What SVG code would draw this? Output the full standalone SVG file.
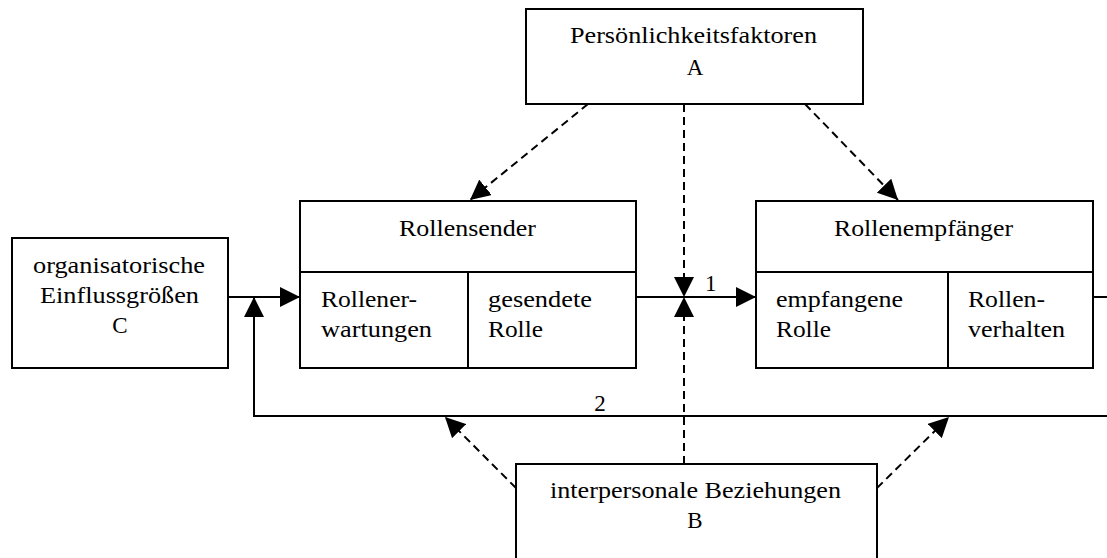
<svg xmlns="http://www.w3.org/2000/svg" width="1107" height="558" viewBox="0 0 1107 558">
<defs>
<marker id="arr" markerUnits="userSpaceOnUse" markerWidth="20" markerHeight="20" refX="20" refY="10" orient="auto" viewBox="0 0 20 20">
<path d="M0,0 L20,10 L0,20 z" fill="#000"/>
</marker>
<style>
.box{fill:#fff;stroke:#000;stroke-width:2}
.div{stroke:#000;stroke-width:2;fill:none}
.ln{stroke:#000;stroke-width:2;fill:none}
.ar{marker-end:url(#arr)}
.ds{stroke-dasharray:8 5}
.m{text-anchor:middle}
</style>
</defs>
<rect width="1107" height="558" fill="#fff"/>
<g font-family="Liberation Serif" font-size="23" fill="#000">
<g id="connectors">
<line class="ln ar" x1="228" y1="297" x2="300" y2="297"/>
<polyline class="ln ar" points="1107,416 254,416 254,297"/>
<line class="ln" x1="1093" y1="297" x2="1107" y2="297"/>
<line class="ln ar" x1="636" y1="297" x2="756" y2="297"/>
<line class="ln ds ar" x1="588" y1="104" x2="470" y2="200"/>
<line class="ln ds ar" x1="684" y1="104" x2="684" y2="297"/>
<line class="ln ds ar" x1="805" y1="104" x2="898" y2="200"/>
<line class="ln ds ar" x1="684" y1="464" x2="684" y2="297"/>
<line class="ln ds ar" x1="516" y1="488" x2="445" y2="417"/>
<line class="ln ds ar" x1="877" y1="488" x2="949" y2="417"/>
<text font-family="Liberation Serif" x="705" y="291">1</text>
<text font-family="Liberation Serif" class="m" x="600" y="411">2</text>
</g>
<g id="nodeA">
<rect class="box" x="526" y="9" width="337" height="95"/>
<text font-family="Liberation Serif" x="570" y="43" textLength="247" lengthAdjust="spacingAndGlyphs">Persönlichkeitsfaktoren</text>
<text font-family="Liberation Serif" class="m" x="695" y="75">A</text>
</g>
<g id="nodeSender">
<rect class="box" x="300" y="201" width="336" height="167"/>
<line class="div" x1="300" y1="272" x2="636" y2="272"/>
<line class="div" x1="468" y1="272" x2="468" y2="368"/>
<text font-family="Liberation Serif" x="399" y="236" textLength="137" lengthAdjust="spacingAndGlyphs">Rollensender</text>
<text font-family="Liberation Serif" x="321" y="307" textLength="96" lengthAdjust="spacingAndGlyphs">Rollener-</text>
<text font-family="Liberation Serif" x="321" y="337" textLength="111" lengthAdjust="spacingAndGlyphs">wartungen</text>
<text font-family="Liberation Serif" x="488" y="307" textLength="104" lengthAdjust="spacingAndGlyphs">gesendete</text>
<text font-family="Liberation Serif" x="488" y="337" textLength="55" lengthAdjust="spacingAndGlyphs">Rolle</text>
</g>
<g id="nodeEmpfaenger">
<rect class="box" x="756" y="201" width="337" height="167"/>
<line class="div" x1="756" y1="272" x2="1093" y2="272"/>
<line class="div" x1="948" y1="272" x2="948" y2="368"/>
<text font-family="Liberation Serif" x="834" y="236" textLength="179" lengthAdjust="spacingAndGlyphs">Rollenempfänger</text>
<text font-family="Liberation Serif" x="776" y="307" textLength="127" lengthAdjust="spacingAndGlyphs">empfangene</text>
<text font-family="Liberation Serif" x="776" y="337" textLength="55" lengthAdjust="spacingAndGlyphs">Rolle</text>
<text font-family="Liberation Serif" x="968" y="307" textLength="77" lengthAdjust="spacingAndGlyphs">Rollen-</text>
<text font-family="Liberation Serif" x="968" y="337" textLength="97" lengthAdjust="spacingAndGlyphs">verhalten</text>
</g>
<g id="nodeC">
<rect class="box" x="12" y="238" width="216" height="130"/>
<text font-family="Liberation Serif" x="33" y="273" textLength="172" lengthAdjust="spacingAndGlyphs">organisatorische</text>
<text font-family="Liberation Serif" x="40" y="303" textLength="159" lengthAdjust="spacingAndGlyphs">Einflussgrößen</text>
<text font-family="Liberation Serif" class="m" x="120" y="333">C</text>
</g>
<g id="nodeB">
<rect class="box" x="516" y="464" width="361" height="104"/>
<text font-family="Liberation Serif" x="550" y="498" textLength="291" lengthAdjust="spacingAndGlyphs">interpersonale Beziehungen</text>
<text font-family="Liberation Serif" class="m" x="695" y="528">B</text>
</g>
</g>
</svg>
